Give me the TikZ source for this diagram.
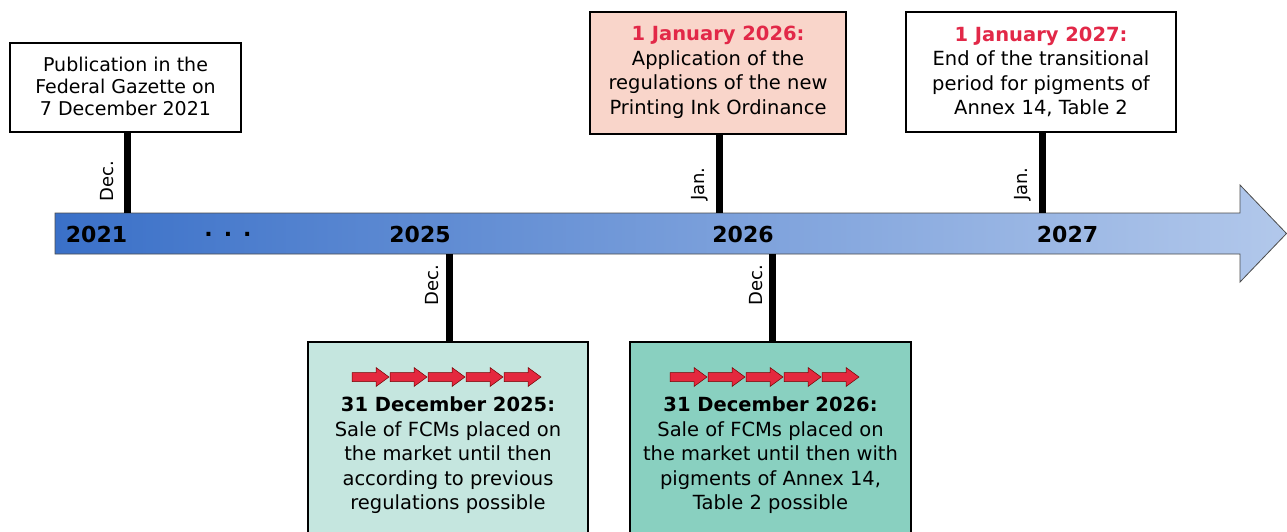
\documentclass[tikz,border=0pt]{standalone}
\usepackage{fontspec}
\setmainfont{DejaVu Sans}
\usetikzlibrary{calc}
\definecolor{arrowL}{RGB}{58,112,200}
\definecolor{arrowR}{RGB}{178,200,235}
\definecolor{pinkbox}{RGB}{249,213,202}
\definecolor{tealA}{RGB}{197,230,223}
\definecolor{tealB}{RGB}{137,208,192}
\definecolor{redtxt}{RGB}{226,40,72}
\definecolor{redarr}{RGB}{228,40,62}
\begin{document}
\begin{tikzpicture}[x=1pt,y=-1pt,
  box/.style={draw=black, line width=2pt, inner sep=0pt},
  stem/.style={line width=7pt},
  mon/.style={font=\fontsize{18}{21}\selectfont, rotate=90, inner sep=0pt},
  yr/.style={font=\bfseries\fontsize{22}{26}\selectfont, inner sep=0pt},
  bodyA/.style={font=\fontsize{19}{22}\selectfont, align=center, inner sep=0pt},
  bodyB/.style={font=\fontsize{19.5}{24.5}\selectfont, align=center, inner sep=0pt},
  redarrow/.style={fill=redarr, draw=red!45!black, line width=0.5pt},
]
\useasboundingbox (0,0) rectangle (1287,531);
% main timeline arrow
\shadedraw[left color=arrowL, right color=arrowR, draw=gray!60!black, line width=0.8pt]
  (55,213) -- (1240,213) -- (1240,185) -- (1286.5,233.5) -- (1240,282) -- (1240,254) -- (55,254) -- cycle;
% anchor points on the arrow
\coordinate (a21) at (127,213);
\coordinate (a26j) at (719,213);
\coordinate (a27) at (1042,213);
\coordinate (d25) at (449,254);
\coordinate (d26) at (772,254);
% year labels
\node[yr] (y21) at (96.5,234.5) {2021};
\node[yr] (dots) at (228,234.5) {.\hspace{0.5em}.\hspace{0.5em}.};
\node[yr] (y25) at (420,234.5) {2025};
\node[yr] (y26) at (743,234.5) {2026};
\node[yr] (y27) at (1067.5,234.5) {2027};
% boxes
\node[box, fill=white, minimum width=231, minimum height=89] (b1) at (125.5,87.5) {};
\node[box, fill=pinkbox, minimum width=256, minimum height=122] (b2) at (718,73) {};
\node[box, fill=white, minimum width=270, minimum height=120] (b3) at (1041,72) {};
\node[box, line width=2.6pt, fill=tealA, minimum width=280, minimum height=198] (b4) at (448,441) {};
\node[box, line width=2.6pt, fill=tealB, minimum width=281, minimum height=198] (b5) at (770.5,441) {};
% stems
\draw[stem] (b1.south -| a21) -- (a21);
\draw[stem] (b2.south -| a26j) -- (a26j);
\draw[stem] (b3.south -| a27) -- (a27);
\draw[stem] (d25) -- (d25 |- b4.north);
\draw[stem] (d26) -- (d26 |- b5.north);
% month labels
\node[mon, anchor=west] (m21) at (107,202) {Dec.};
\node[mon, anchor=west] (m26j) at (700,201) {Jan.};
\node[mon, anchor=west] (m27) at (1023,201) {Jan.};
\node[mon, anchor=east] (m25) at (432.5,265) {Dec.};
\node[mon, anchor=east] (m26d) at (756,265) {Dec.};
% box texts
\node[bodyA] (t1) at (125.5,86) {Publication in the\\Federal Gazette on\\7 December 2021};
\node[bodyB] (t2) at (718,72.5) {\textcolor{redtxt}{\textbf{1 January 2026:}}\\Application of the\\regulations of the new\\Printing Ink Ordinance};
\node[bodyB] (t3) at (1041,72) {\textcolor{redtxt}{\textbf{1 January 2027:}}\\End of the transitional\\period for pigments of\\Annex 14, Table 2};
\node[bodyB] (t4) at (448,455.5) {\textbf{31 December 2025:}\\Sale of FCMs placed on\\the market until then\\according to previous\\regulations possible};
\node[bodyB] (t5) at (770.5,455.5) {\textbf{31 December 2026:}\\Sale of FCMs placed on\\the market until then with\\pigments of Annex 14,\\Table 2 possible};
% red arrows
\foreach \s in {352,670}{
  \foreach \i in {0,...,4}{
    \pgfmathsetmacro{\xx}{\s+38*\i}
    \draw[redarrow, shift={(\xx,377)}] (0,-4.5) -- (24,-4.5) -- (24,-9.5) -- (37,0) -- (24,9.5) -- (24,4.5) -- (0,4.5) -- cycle;
  }
}
\end{tikzpicture}
\end{document}
